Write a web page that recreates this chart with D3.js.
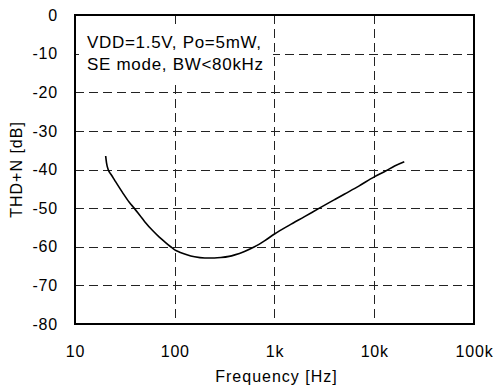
<!DOCTYPE html>
<html>
<head>
<meta charset="utf-8">
<script src="https://cdn.jsdelivr.net/npm/d3@7"></script>
<style>
  html, body { margin: 0; padding: 0; background: #fff; }
  svg { display: block; font-family: Arial, "Liberation Sans", sans-serif; }
</style>
</head>
<body>
<svg id="chart" width="495" height="388"></svg>
<script>
// THD+N versus frequency
const frequencyHz = [20.3, 20.7, 21.5, 23, 25, 30, 35, 39.2, 45, 50, 60, 70, 80, 91, 100, 112, 130, 158, 200, 250, 290, 350, 400, 500, 631, 800, 1000, 1413, 2000, 2818, 4000, 5000, 7000, 10000, 13000, 16000, 20000];
const thdN = [-36.5, -38.3, -40, -41.3, -42.8, -46.0, -48.5, -50, -52, -53.5, -55.8, -57.5, -58.8, -60, -60.8, -61.4, -62, -62.6, -62.9, -62.9, -62.8, -62.5, -62.1, -61.2, -60, -58.4, -56.7, -54.4, -52.2, -50, -47.8, -46.4, -44.3, -41.9, -40.4, -39.1, -38];

const xTicks = [10, 100, 1000, 10000, 100000];
const xTickLabels = ["10", "100", "1k", "10k", "100k"];
const yTicks = [0, -10, -20, -30, -40, -50, -60, -70, -80];
const annotationLines = ["VDD=1.5V, Po=5mW,", "SE mode, BW<80kHz"];

const svg = d3.select("#chart");
const plotLeft = 75, plotRight = 474, plotTop = 15, plotBottom = 324;

const x = d3.scaleLog().domain([10, 100000]).range([plotLeft, plotRight]);
const y = d3.scaleLinear().domain([0, -80]).range([plotTop, plotBottom]);

// dashed grid
const grid = svg.append("g")
  .attr("stroke", "#222")
  .attr("stroke-width", 1)
  .attr("stroke-dasharray", "9,5");

grid.selectAll("line.h")
  .data(yTicks.filter(v => v !== 0 && v !== -80))
  .join("line")
  .attr("class", "h")
  .attr("x1", plotLeft).attr("x2", plotRight)
  .attr("y1", d => Math.round(y(d)) + 0.5)
  .attr("y2", d => Math.round(y(d)) + 0.5);

grid.selectAll("line.v")
  .data(xTicks.slice(1, -1))
  .join("line")
  .attr("class", "v")
  .attr("x1", d => Math.round(x(d)) + 0.5)
  .attr("x2", d => Math.round(x(d)) + 0.5)
  .attr("y1", plotTop).attr("y2", plotBottom);

// annotation with a white backing box
svg.append("rect")
  .attr("x", plotLeft + 4).attr("y", 24)
  .attr("width", 194).attr("height", 59)
  .attr("fill", "#fff");

svg.append("g")
  .selectAll("text")
  .data(annotationLines)
  .join("text")
  .attr("x", 87)
  .attr("y", (d, i) => 47.5 + i * 22.5)
  .attr("font-size", 17)
  .attr("letter-spacing", 0.7)
  .attr("fill", "#000")
  .text(d => d);

// THD+N curve
const line = d3.line()
  .x((d, i) => x(frequencyHz[i]))
  .y(d => y(d))
  .curve(d3.curveMonotoneX);

svg.append("path")
  .datum(thdN)
  .attr("fill", "none")
  .attr("stroke", "#000")
  .attr("stroke-width", 1.6)
  .attr("d", line);

// plot frame
svg.append("rect")
  .attr("x", plotLeft).attr("y", plotTop)
  .attr("width", plotRight - plotLeft).attr("height", plotBottom - plotTop)
  .attr("fill", "none")
  .attr("stroke", "#000")
  .attr("stroke-width", 2);

// axes labels
const xAxis = d3.axisBottom(x)
  .tickValues(xTicks)
  .tickFormat((d, i) => xTickLabels[i])
  .tickSize(0)
  .tickPadding(22);
const gx = svg.append("g").attr("transform", `translate(0,${plotBottom})`).call(xAxis);
gx.select(".domain").remove();
gx.selectAll("text")
  .attr("font-size", 16)
  .attr("letter-spacing", 0.8)
  .attr("font-family", "Arial, 'Liberation Sans', sans-serif")
  .attr("fill", "#000");

const yAxis = d3.axisLeft(y)
  .tickValues(yTicks)
  .tickFormat(d3.format("d"))
  .tickSize(0)
  .tickPadding(17);
const gy = svg.append("g").attr("transform", `translate(${plotLeft},0)`).call(yAxis);
gy.select(".domain").remove();
gy.selectAll("text")
  .attr("font-size", 16)
  .attr("letter-spacing", 0.8)
  .attr("font-family", "Arial, 'Liberation Sans', sans-serif")
  .attr("fill", "#000")
  .text(d => d === 0 ? "0" : "-" + Math.abs(d));

svg.append("text")
  .attr("x", (plotLeft + plotRight) / 2 + 2)
  .attr("y", 382)
  .attr("text-anchor", "middle")
  .attr("font-size", 16)
  .attr("letter-spacing", 1)
  .attr("fill", "#000")
  .text("Frequency [Hz]");

svg.append("text")
  .attr("transform", `translate(22,${(plotTop + plotBottom) / 2}) rotate(-90)`)
  .attr("text-anchor", "middle")
  .attr("font-size", 16)
  .attr("letter-spacing", 1)
  .attr("fill", "#000")
  .text("THD+N [dB]");
</script>
</body>
</html>
